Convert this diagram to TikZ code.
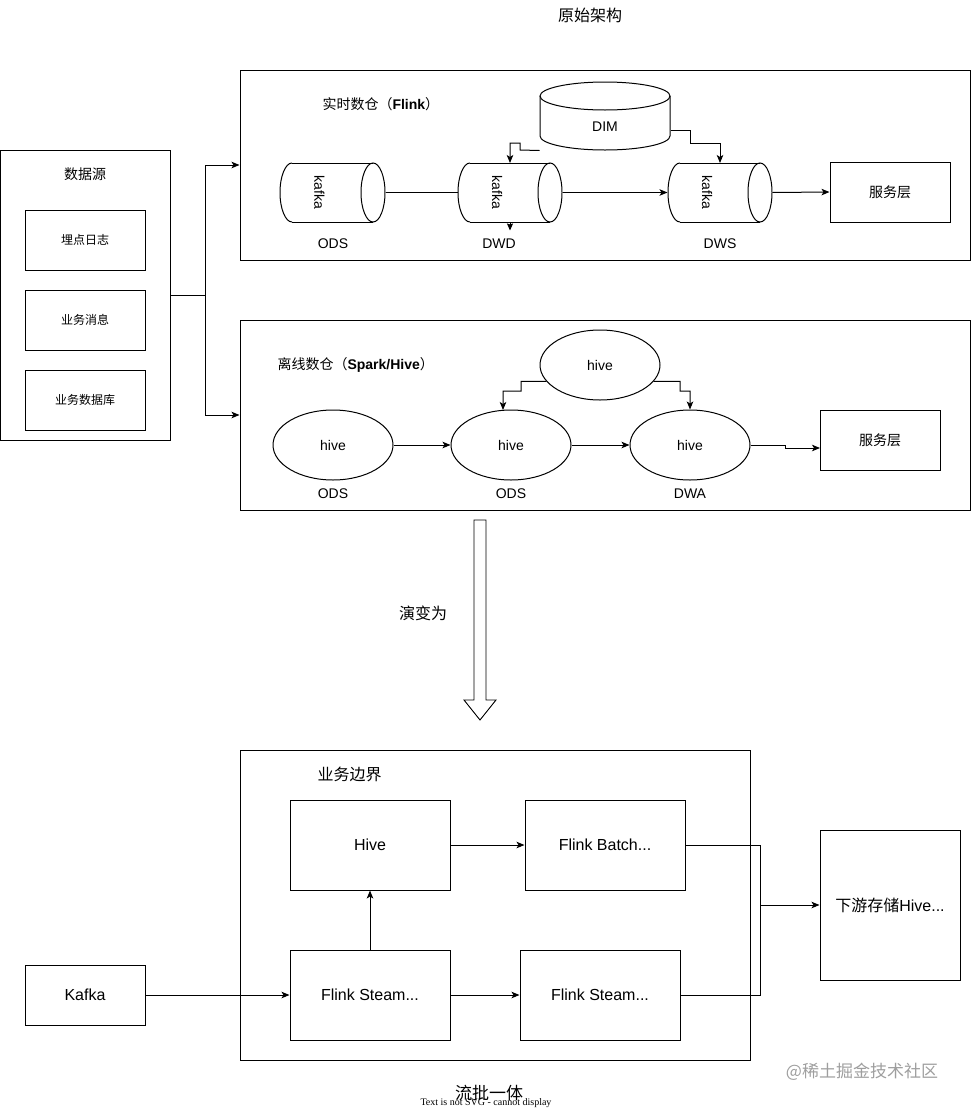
\documentclass[tikz,border=0pt]{standalone}
\usepackage{fontspec}
\setmainfont{Liberation Sans}
\newfontfamily\cjk{Noto Sans CJK SC}
\newfontfamily\tms{Liberation Serif}
\usetikzlibrary{arrows.meta,calc,shapes.geometric}
\newcommand\fs[1]{\fontsize{#1}{#1}\selectfont}
\begin{document}
\begin{tikzpicture}[x=1pt,y=-1pt,line width=1pt,
  box/.style={draw,rectangle,inner sep=0pt},
  ghost/.style={rectangle,inner sep=0pt},
  ell/.style={draw,ellipse,inner sep=0pt,minimum width=120,minimum height=70,font=\fs{14}},
  arr/.style={-{Stealth[length=8pt,width=6.5pt,inset=2pt]}},
  lbl/.style={inner sep=0pt,font=\fs{14}},
  zh/.style={inner sep=0pt,font={\cjk\fs{#1}}},
]
\useasboundingbox (0,0) rectangle (971,1111);

% title
\node[zh=16] (title) at (590,15) {原始架构};

% data source
\node[box,minimum width=169.5,minimum height=290] (src) at (85.25,295) {};
\node[zh=14] (srct) at (85,174) {数据源};
\node[box,minimum width=120,minimum height=60,font={\cjk\fs{12}}] (s1) at (85,240) {埋点日志};
\node[box,minimum width=120,minimum height=60,font={\cjk\fs{12}}] (s2) at (85,320) {业务消息};
\node[box,minimum width=120,minimum height=60,font={\cjk\fs{12}}] (s3) at (85,400) {业务数据库};

% realtime container
\node[box,minimum width=730,minimum height=190] (rt) at (605,165) {};
\node[inner sep=0pt,anchor=west,font=\fs{14}] (rtt) at (322,104) {{\cjk 实时数仓（}\textbf{Flink}{\cjk ）}};

% offline container
\node[box,minimum width=730,minimum height=190] (off) at (605,415) {};
\node[inner sep=0pt,anchor=west,font=\fs{14}] (offt) at (277,365) {{\cjk 离线数仓（}\textbf{Spark/Hive}{\cjk ）}};

\draw[arr] (src.east) -- ++(35,0) |- (rt.west);
\draw[arr] (src.east) -- ++(35,0) |- (off.west);

% DIM cylinder
\draw (605,96) ellipse[x radius=65,y radius=14];
\draw (540,96) -- (540,136) arc[start angle=180,end angle=0,x radius=65,y radius=14] -- (670,96);
\node[ghost,minimum width=130,minimum height=68] (dim) at (605,116) {};
\node[lbl] (dimt) at (605,127) {DIM};

% kafka cylinders
\foreach \n/\a/\b in {k1/280/385,k2/458/562,k3/668/772}{
  \draw (\a+12,163) -- (\b-12,163);
  \draw (\a+12,222) -- (\b-12,222);
  \draw (\a+12,163) arc[start angle=270,end angle=90,x radius=12,y radius=29.5];
  \draw (\b-12,192.5) ellipse[x radius=12,y radius=29.5];
  \node[ghost,minimum width=\b-\a,minimum height=59] (\n) at ({(\a+\b)/2},192.5) {};
  \node[lbl,rotate=-90] (\n t) at ({(\a+\b)/2-13},192.5) {kafka};
}
\node[box,minimum width=120,minimum height=60,font={\cjk\fs{14}}] (srv1) at (890,192) {服务层};
\node[lbl] (l1) at (333,244) {ODS};
\node[lbl] (l2) at (499,244) {DWD};
\node[lbl] (l3) at (720,244) {DWS};

\draw (k1.east) -- (k2.west);
\draw[arr] (k2.east) -- (k3.west);
\draw[arr] (k3.east) -- (srv1.west);
\draw[-{Stealth[length=7pt,width=6pt,inset=1pt]}] (k2.south) -- ++(0,8);
\draw[arr] (dim.south west) -- (520,150) -- (520,143) -- (510,143) -- (510,163);
\draw[arr] ($(dim.east)+(0,14)$) -- (690,130) -- (690,143) -- (720,143) -- (720,163);

% offline contents
\node[ell] (h0) at (600,365) {hive};
\node[ell] (h1) at (333,445) {hive};
\node[ell] (h2) at (511,445) {hive};
\node[ell] (h3) at (690,445) {hive};
\node[box,minimum width=120,minimum height=60,font={\cjk\fs{14}}] (srv2) at (880,440) {服务层};
\node[lbl] (m1) at (333,494) {ODS};
\node[lbl] (m2) at (511,494) {ODS};
\node[lbl] (m3) at (690,494) {DWA};

\draw[arr] (h1.east) -- (h2.west);
\draw[arr] (h2.east) -- (h3.west);
\draw[arr] (h3.east) -- (785,445) -- (785,448) -- (820,448);
\draw[arr] (h0.197) -- (521,381.3) -- (521,391) -- (503,391) -- (503,410);
\draw[arr] (h0.343) -- (680,381.3) -- (680,391) -- (690,391) -- (h3.north);

% big hollow arrow
\draw[line width=0.9pt] (474,520) -- (486,520) -- (486,700) -- (496,700) -- (480,720) -- (464,700) -- (474,700) -- cycle;
\node[zh=16] (evo) at (423,613) {演变为};

% bottom
\node[box,minimum width=510,minimum height=310] (bb) at (495,905) {};
\node[inner sep=0pt,anchor=west,font={\cjk\fs{16}}] (bbt) at (317,774) {业务边界};
\node[box,minimum width=160,minimum height=90,font=\fs{16}] (hive) at (370,845) {Hive};
\node[box,minimum width=160,minimum height=90,font=\fs{16}] (fsl) at (370,995) {Flink Steam...};
\node[box,minimum width=120,minimum height=60,font=\fs{16}] (kafka) at (85,995) {Kafka};
\node[box,minimum width=160,minimum height=90,font=\fs{16}] (fb) at (605,845) {Flink Batch...};
\node[box,minimum width=160,minimum height=90,font=\fs{16}] (fsr) at (600,995) {Flink Steam...};
\node[box,minimum width=140,minimum height=150,font=\fs{16}] (ds) at (890,905) {{\cjk 下游存储}Hive...};

\draw[arr] (kafka.east) -- (fsl.west);
\draw[arr] (fsl.north) -- (hive.south);
\draw[arr] (hive.east) -- (fb.west);
\draw[arr] (fsl.east) -- (fsr.west);
\draw[arr] (fb.east) -- (760,845) -- (760,905) -- (ds.west);
\draw (fsr.east) -- (760,995) -- (760,905);

% footer
\node[zh=17] (pf) at (489,1093) {流批一体};
\node[inner sep=0pt,font={\tms\fs{10}}] (nosvg) at (486,1103) {Text is not SVG - cannot display};
\node[zh=17,text=black!38] (wm) at (862,1072) {@稀土掘金技术社区};
\end{tikzpicture}
\end{document}
